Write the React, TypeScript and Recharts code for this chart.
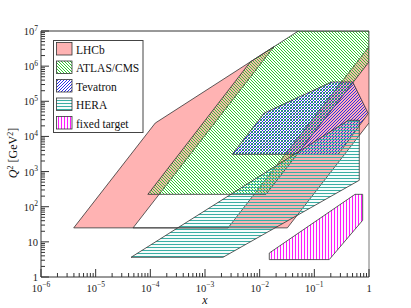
import React from 'react';
import { ScatterChart, Scatter, XAxis, YAxis, ReferenceLine, Customized } from 'recharts';

// ---- data: polygon vertices in (x, Q^2) ----
const lhcbX = [3.97e-6, 1.23e-4, 0.0183, 4.83e-5, 2.64e-3, 1, 1, 0.0321];
const lhcbQ2 = [25, 2.4e4, 3.59e6, 25, 25, 3.59e6, 2.42e4, 25];
const atlasX = [9.0e-5, 6.74e-3, 0.051, 1, 1, 0.01305];
const atlasQ2 = [225, 1.32e6, 1e7, 1e7, 1.32e6, 225];
const tevX = [3.16e-3, 0.01217, 0.2075, 0.504, 0.97, 0.274];
const tevQ2 = [3100, 4.64e4, 3.54e5, 3.54e5, 4.46e4, 3100];
const heraX = [4.43e-5, 0.418, 0.664, 0.664, 2.13e-3];
const heraQ2 = [3.63, 2.88e4, 2.88e4, 564, 3.63];
const ftX = [0.015, 0.015, 0.555, 0.766, 0.766, 0.1875];
const ftQ2 = [3.13, 4.81, 225, 225, 41, 3.13];

const legendLabels = ['LHCb', 'ATLAS/CMS', 'Tevatron', 'HERA', 'fixed target'];

const xMajor = [1e-6, 1e-5, 1e-4, 1e-3, 1e-2, 1e-1, 1];
const yMajor = [1, 10, 100, 1e3, 1e4, 1e5, 1e6, 1e7];
const minorMult = [2, 3, 4, 5, 6, 7, 8, 9];

const withMinor = (maj: number[]) => {
  const out: number[] = [];
  maj.forEach((m, i) => {
    out.push(m);
    if (i < maj.length - 1) minorMult.forEach((k) => out.push(k * m));
  });
  return out;
};
const xTicks = withMinor(xMajor);
const yTicks = withMinor(yMajor);

const toPts = (xs: number[], ys: number[]) => xs.map((x, i) => ({ x, y: ys[i] }));

const FILLS = {
  lhcb: '#ffb3b3',
  atlas: 'url(#pGreen)',
  tev: 'url(#pBlue)',
  hera: 'url(#pTeal)',
  ft: 'url(#pMag)',
};
const fillList = [FILLS.lhcb, FILLS.atlas, FILLS.tev, FILLS.hera, FILLS.ft];

const SERIF = "'Liberation Serif', 'Times New Roman', 'DejaVu Serif', serif";
const AX = '#333';
const serif = { fontFamily: SERIF };

const makePoly = (fill: string) => (props: any) => {
  const pts = (props.points || []) as { x: number; y: number }[];
  if (!pts.length) return <g />;
  const d = pts.map((p, i) => `${i ? 'L' : 'M'}${p.x},${p.y}`).join(' ') + ' Z';
  return <path d={d} fill={fill} stroke="#333" strokeWidth={0.8} strokeLinejoin="miter" />;
};

const isMajor = (v: number) => Math.abs(Math.log10(v) - Math.round(Math.log10(v))) < 1e-9;

const XTick = (props: any) => {
  const { x, y, payload } = props;
  const v = payload.value as number;
  const major = isMajor(v);
  const e = Math.round(Math.log10(v));
  return (
    <g>
      <line x1={x} y1={y} x2={x} y2={y - (major ? 8 : 4)} stroke={AX} strokeWidth={1} />
      {major && (
        <text x={x} y={y + 14.5} textAnchor="middle" style={serif} fontSize={10.5} fill="#222">
          {e === 0 ? (
            '1'
          ) : (
            <>
              <tspan>10</tspan>
              <tspan dy={-4.5} fontSize={7.5}>{'\u2212' + -e}</tspan>
            </>
          )}
        </text>
      )}
    </g>
  );
};

const YTick = (props: any) => {
  const { x, y, payload } = props;
  const v = payload.value as number;
  const major = isMajor(v);
  const e = Math.round(Math.log10(v));
  return (
    <g>
      <line x1={x} y1={y} x2={x + (major ? 8 : 4)} y2={y} stroke={AX} strokeWidth={1} />
      {major && (
        <text x={x - 3} y={y + 4} textAnchor="end" style={serif} fontSize={10.5} fill="#222">
          {e === 0 ? '1' : e === 1 ? '10' : (
            <>
              <tspan>10</tspan>
              <tspan dy={-4.5} fontSize={7.5}>{String(e)}</tspan>
            </>
          )}
        </text>
      )}
    </g>
  );
};

const Decor = () => (
  <g>
    {/* legend */}
    <rect x={53.5} y={40.5} width={89.5} height={92} fill="#fff" stroke="#444" strokeWidth={1} />
    {legendLabels.map((lab, i) => {
      const top = 42.5 + i * 18.5;
      return (
        <g key={lab}>
          <rect x={56.5} y={top} width={15.5} height={12.5} fill={fillList[i]} stroke="#333" strokeWidth={0.8} />
          <text x={76} y={top + 11} style={serif} fontSize={11.5} fill="#111">{lab}</text>
        </g>
      );
    })}
    {/* axis titles */}
    <text x={205} y={303.5} textAnchor="middle" style={serif} fontStyle="italic" fontSize={12} fill="#111">x</text>
    <text transform="translate(17,153) rotate(-90)" textAnchor="middle" style={serif} fontSize={12} fill="#111">
      <tspan fontStyle="italic">Q</tspan>
      <tspan dy={-4.5} fontSize={8}>2</tspan>
      <tspan dy={4.5}> [GeV</tspan>
      <tspan dy={-4.5} fontSize={8}>2</tspan>
      <tspan dy={4.5}>]</tspan>
    </text>
  </g>
);

export default function App() {
  const series = [
    { key: 'lhcb', data: toPts(lhcbX, lhcbQ2), fill: FILLS.lhcb },
    { key: 'atlas', data: toPts(atlasX, atlasQ2), fill: FILLS.atlas },
    { key: 'tev', data: toPts(tevX, tevQ2), fill: FILLS.tev },
    { key: 'hera', data: toPts(heraX, heraQ2), fill: FILLS.hera },
    { key: 'ft', data: toPts(ftX, ftQ2), fill: FILLS.ft },
  ];
  return (
    <div style={{ position: 'absolute', left: 0, top: 0, width: 411, height: 308, background: '#fff' }}>
      <ScatterChart width={411} height={308} margin={{ top: 31, right: 42, bottom: 0, left: 0 }}>
        <defs>
          <pattern id="pGreen" patternUnits="userSpaceOnUse" width={3} height={3}>
            <path d="M0,0 L3,3 M-1,2 L1,4 M2,-1 L4,1" stroke="#2fcc2f" strokeWidth={1} />
          </pattern>
          <pattern id="pBlue" patternUnits="userSpaceOnUse" width={3} height={3}>
            <path d="M0,3 L3,0 M-1,1 L1,-1 M2,4 L4,2" stroke="#2b2bea" strokeWidth={1} />
          </pattern>
          <pattern id="pTeal" patternUnits="userSpaceOnUse" width={3} height={3}>
            <path d="M0,1.5 L3,1.5" stroke="#3aaea4" strokeWidth={1.1} />
          </pattern>
          <pattern id="pMag" patternUnits="userSpaceOnUse" width={3} height={3}>
            <path d="M1.5,0 L1.5,3" stroke="#ff1aff" strokeWidth={1.1} />
          </pattern>
        </defs>
        <XAxis
          type="number"
          dataKey="x"
          scale="log"
          domain={[1e-6, 1]}
          allowDataOverflow
          ticks={xTicks}
          interval={0}
          tick={<XTick />}
          tickLine={false}
          tickSize={0}
          tickMargin={0}
          height={31}
          axisLine={{ stroke: AX, strokeWidth: 1 }}
        />
        <YAxis
          type="number"
          dataKey="y"
          scale="log"
          domain={[1, 1e7]}
          allowDataOverflow
          ticks={yTicks}
          interval={0}
          tick={<YTick />}
          tickLine={false}
          tickSize={0}
          tickMargin={0}
          width={41}
          axisLine={{ stroke: AX, strokeWidth: 1 }}
        />
        {series.map((s) => (
          <Scatter
            key={s.key}
            data={s.data}
            isAnimationActive={false}
            shape={() => <g />}
            line={makePoly(s.fill)}
            lineType="joint"
          />
        ))}
        <ReferenceLine y={1e7} stroke={AX} strokeWidth={1} ifOverflow="visible" />
        <ReferenceLine x={1} stroke="#777" strokeWidth={1} ifOverflow="visible" />
        <Customized component={Decor} />
      </ScatterChart>
    </div>
  );
}
